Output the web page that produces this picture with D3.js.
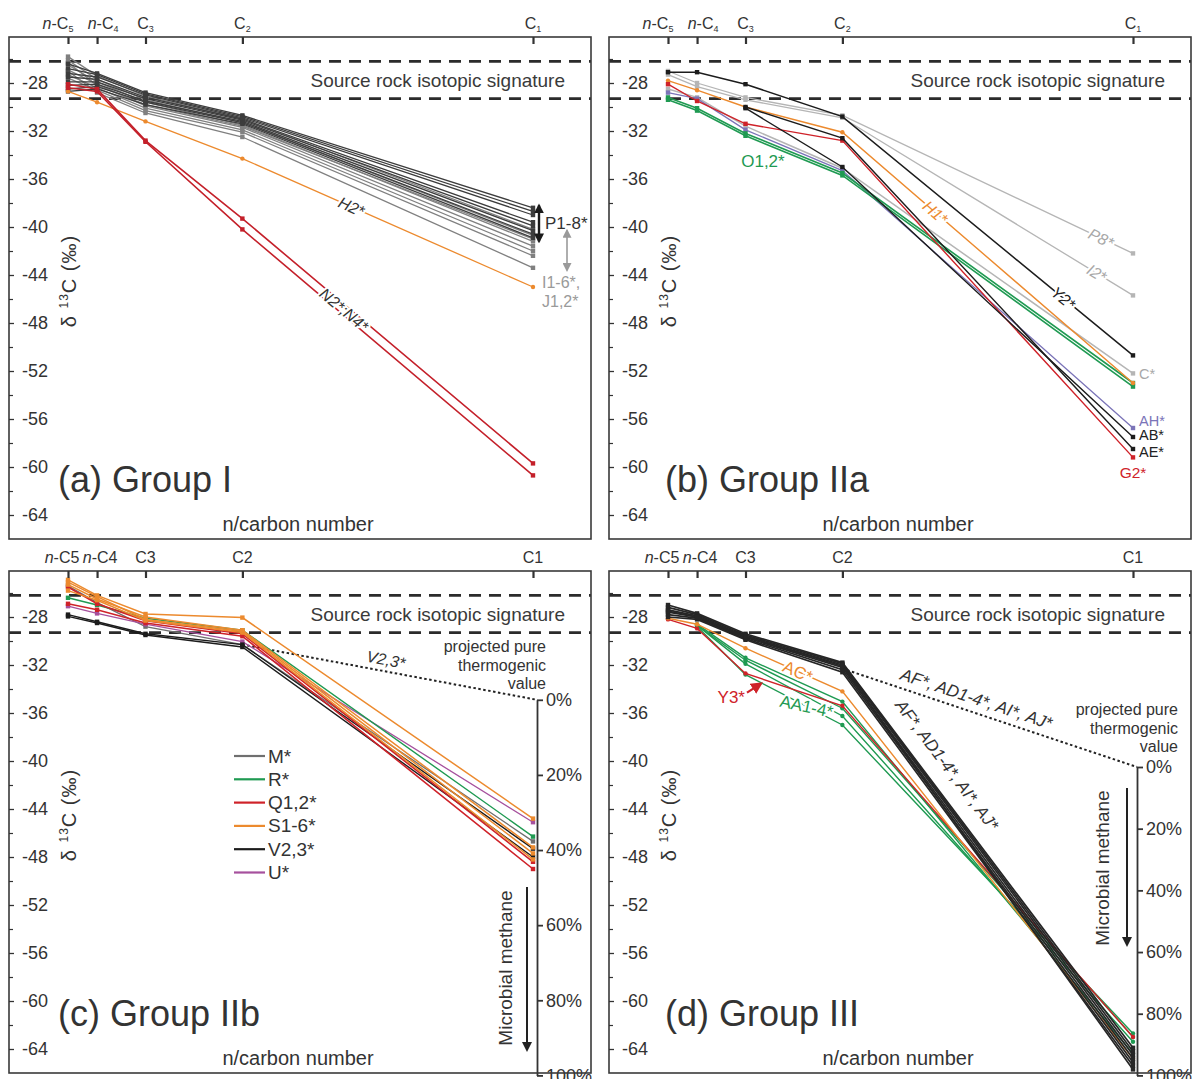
<!DOCTYPE html>
<meta charset="utf-8">
<style>
  body { margin: 0; background: #fff; }
  svg { display: block; font-family: "Liberation Sans", Arial, sans-serif; }
  .src { stroke: #2b2b2b; stroke-width: 2.8; stroke-dasharray: 12,8; }
</style>
<body></body>
<script src="https://d3js.org/d3.v7.min.js"></script>
<script>
// categories on the top axis, plotted against 1/n
var cats = ["n-C5", "n-C4", "C3", "C2", "C1"];
var carbonN = [5, 4, 3, 2, 1];
var yMajor = [-28, -32, -36, -40, -44, -48, -52, -56, -60, -64];
var yMinor = [-26, -30, -34, -38, -42, -46, -50, -54, -58, -62];
var sourceBand = [-26.2, -29.3];
var pctTicks = [0, 20, 40, 60, 80, 100];
var thermoC = -34.9, thermoD = -40.5, microbial = -66.2;

// (a) Group I   values: n-C5, n-C4, C3, C2, C1
var aP = [
  [-26.4, -27.2, -28.8, -30.7, -38.4],
  [-26.8, -27.3, -28.9, -30.8, -38.7],
  [-27.2, -27.5, -29.0, -30.9, -39.0],
  [-27.5, -27.7, -29.2, -31.0, -39.6],
  [-27.9, -27.9, -29.3, -31.1, -39.9],
  [-28.2, -28.1, -29.5, -31.2, -40.3],
  [-28.5, -28.3, -29.6, -31.3, -40.6],
  [-28.7, -28.5, -29.8, -31.4, -40.9]
];
var aIJ = [
  [-25.8, -27.4, -29.1, -31.0, -40.2],
  [-26.1, -27.7, -29.4, -31.3, -40.7],
  [-26.5, -27.9, -29.6, -31.5, -41.2],
  [-26.9, -28.1, -29.9, -31.7, -41.6],
  [-27.3, -28.4, -30.1, -31.9, -42.0],
  [-27.6, -28.6, -30.3, -32.1, -42.4],
  [-27.0, -28.8, -30.5, -32.5, -43.4],
  [-26.3, -28.2, -29.8, -31.6, -41.0]
];
var aH2 = [-28.7, -29.6, -31.2, -34.3, -45.0];
var aN = [
  [-28.1, -28.5, -32.8, -39.3, -59.7],
  [-28.4, -28.7, -32.9, -40.2, -60.7]
];

// (b) Group IIa
var bP8 = [-27.0, -28.0, -29.2, -30.7, -42.2];
var bI2 = [-27.3, -28.3, -29.4, -30.9, -45.7];
var bC = [-28.5, -29.2, -31.6, -35.1, -52.2];
var bY2 = [-27.1, -27.1, -28.1, -30.8, -50.7];
var bH1 = [-27.8, -28.6, -30.0, -32.1, -53.0];
var bO = [
  [-29.2, -30.1, -32.2, -35.5, -53.0],
  [-29.4, -30.3, -32.4, -35.7, -53.3]
];
var bAH = [-28.8, -29.3, -31.9, -35.3, -56.75];
var bAB = [null, null, -30.1, -35.0, -57.5];
var bAE = [null, null, -30.0, -32.6, -58.5];
var bG2 = [-28.1, -29.5, -31.4, -32.8, -59.2];

// (c) Group IIb
var cM = [-25.4, -26.8, -28.8, -30.3, -46.7];
var cR = [-26.4, -27.0, -28.1, -29.1, -46.3];
var cQ = [
  [-25.5, -26.9, -28.3, -29.4, -48.4],
  [-26.9, -27.4, -28.5, -29.6, -49.0]
];
var cS = [
  [-24.9, -26.2, -27.75, -28.05, -44.8],
  [-25.1, -26.3, -28.2, -29.2, -47.7],
  [-25.8, -26.6, -28.3, -29.3, -48.2],
  [-25.3, -26.5, -28.0, -29.1, -47.2]
];
var cV = [
  [-27.8, -28.4, -29.4, -30.3, -47.3],
  [-27.95, -28.5, -29.5, -30.5, -48.0]
];
var cU = [-27.1, -27.7, -28.6, -30.05, -45.1];

// (d) Group III
var dAF = [
  [-27.0, -27.7, -29.4, -31.8, -63.9],
  [-27.2, -27.8, -29.5, -31.9, -64.2],
  [-27.4, -27.9, -29.6, -32.0, -64.5],
  [-27.6, -28.0, -29.7, -32.2, -64.8],
  [-27.8, -28.1, -29.8, -32.4, -65.1],
  [-28.0, -28.2, -29.9, -32.6, -65.4],
  [-27.5, -28.0, -29.6, -32.1, -65.7]
];
var dAC = [-28.1, -28.6, -30.6, -34.2, -64.8];
var dY3 = [-28.2, -28.95, -32.7, -35.4, -63.0];
var dAA = [
  [null, -28.6, -31.4, -35.05, -64.4],
  [null, -28.7, -31.6, -35.6, -63.0],
  [null, -28.7, -31.9, -36.25, -63.4],
  [null, -28.8, -32.8, -37.0, -62.7]
];

var col = {
  dark: "#3d3d3d", grey: "#808080", light: "#b5b5b5", orange: "#ec8a2e",
  red: "#cf2229", green: "#1f9a52", purple: "#7b74b8", magenta: "#a6509d",
  black: "#1c1c1c", mgrey: "#6f6f6f"
};

var W = 1198, H = 1079;
var svg = d3.select("body").append("svg").attr("width", W).attr("height", H);
svg.append("rect").attr("width", W).attr("height", H).attr("fill", "#fff");

var defs = svg.append("defs");
function arrowDef(id, color, size) {
  defs.append("marker").attr("id", id)
    .attr("viewBox", "0 0 10 10").attr("refX", 8).attr("refY", 5)
    .attr("markerWidth", size).attr("markerHeight", size)
    .attr("markerUnits", "userSpaceOnUse")
    .attr("orient", "auto-start-reverse")
    .append("path").attr("d", "M0,0L10,5L0,10z").attr("fill", color);
}
arrowDef("ahBlack", "#1a1a1a", 10);
arrowDef("ahGrey", "#9a9a9a", 9);
arrowDef("ahRed", col.red, 12);
arrowDef("ahDark", "#222", 10);

var x = d3.scaleLinear().domain([0.2, 1]).range([68, 533]);
var y = d3.scaleLinear().domain([-28, -64]).range([83, 515]);
var F = {l: 9, t: 37, r: 591, b: 539};

var line = d3.line()
  .defined(function(d) { return d.v != null; })
  .x(function(d) { return x(1 / d.n); })
  .y(function(d) { return y(d.v); });

function S(vals, color, w, mark) { return {vals: vals, color: color, w: w || 1.3, mark: mark || "sq"}; }

function drawSeries(g, list) {
  list.forEach(function(s) {
    var pts = s.vals.map(function(v, i) { return {n: carbonN[i], v: v}; });
    g.append("path").datum(pts).attr("d", line)
      .attr("fill", "none").attr("stroke", s.color).attr("stroke-width", s.w);
    var real = pts.filter(function(d) { return d.v != null; });
    if (s.mark === "ci") {
      g.selectAll(null).data(real).enter().append("circle")
        .attr("cx", function(d) { return x(1 / d.n); })
        .attr("cy", function(d) { return y(d.v); })
        .attr("r", 2.2).attr("fill", s.color);
    } else {
      g.selectAll(null).data(real).enter().append("rect")
        .attr("x", function(d) { return x(1 / d.n) - 2.2; })
        .attr("y", function(d) { return y(d.v) - 2.2; })
        .attr("width", 4.4).attr("height", 4.4).attr("fill", s.color);
    }
  });
}

function onSeg(vals, i, t) {
  var x0 = x(1 / carbonN[i]), y0 = y(vals[i]), x1 = x(1 / carbonN[i + 1]), y1 = y(vals[i + 1]);
  return {x: x0 + (x1 - x0) * t, y: y0 + (y1 - y0) * t, a: Math.atan2(y1 - y0, x1 - x0) * 180 / Math.PI};
}

function tag(g, pos, txt, color, o) {
  o = o || {};
  var t = g.append("text")
    .attr("transform", "translate(" + pos.x + "," + pos.y + ") rotate(" + (o.angle != null ? o.angle : (pos.a || 0)) + ")")
    .attr("text-anchor", o.anchor || "middle")
    .attr("dy", o.dy != null ? o.dy : "0.35em")
    .attr("font-size", o.size || 15)
    .attr("font-style", o.italic ? "italic" : null)
    .attr("fill", color)
    .text(txt);
  if (o.halo) t.attr("stroke", "#fff").attr("stroke-width", 4).attr("paint-order", "stroke").attr("stroke-linejoin", "round");
  return t;
}

function panel(p) {
  var g = svg.append("g").attr("transform", "translate(" + p.dx + "," + p.dy + ")");

  // source rock band
  sourceBand.forEach(function(v) {
    g.append("line").attr("class", "src")
      .attr("x1", F.l).attr("x2", F.r).attr("y1", y(v)).attr("y2", y(v));
  });
  g.append("text").attr("x", 565).attr("y", y(-28) + 4)
    .attr("text-anchor", "end").attr("font-size", 19).attr("fill", "#3a3a3a")
    .text("Source rock isotopic signature");

  // titles
  g.append("text").attr("x", p.titleX).attr("y", 492)
    .attr("font-size", 36).attr("fill", "#333").text(p.title);
  g.append("text").attr("x", 298).attr("y", 531).attr("text-anchor", "middle")
    .attr("font-size", 20).attr("fill", "#333").text("n/carbon number");

  // right axis (microbial methane %)
  if (p.thermo != null) {
    var pct = d3.scaleLinear().domain([0, 100]).range([y(p.thermo), y(microbial)]);
    var ax = x(1) + 4;
    g.append("line")
      .attr("x1", x(1 / 2)).attr("y1", y(p.dotFrom))
      .attr("x2", ax).attr("y2", y(p.thermo))
      .attr("stroke", "#222").attr("stroke-width", 2).attr("stroke-dasharray", "2.5,2.5");
    var ra = g.append("g").attr("transform", "translate(" + ax + ",0)")
      .call(d3.axisRight(pct).tickValues(pctTicks).tickSize(6).tickSizeOuter(0).tickPadding(3)
        .tickFormat(function(d) { return d + "%"; }));
    ra.attr("font-size", 18).attr("font-family", null);
    ra.selectAll("path,line").attr("stroke", "#333").attr("stroke-width", 1.8);
    ra.selectAll("text").attr("fill", "#333");

    p.proj.forEach(function(s, i) {
      g.append("text").attr("x", p.projX).attr("y", p.projY + i * 18.5)
        .attr("text-anchor", "end").attr("font-size", 16).attr("fill", "#333").text(s);
    });
    g.append("text")
      .attr("transform", "translate(" + p.mmX + "," + p.mmY + ") rotate(-90)")
      .attr("text-anchor", "middle").attr("font-size", 19).attr("fill", "#333")
      .text("Microbial methane");
    g.append("line").attr("x1", p.arX).attr("x2", p.arX)
      .attr("y1", p.arY[0]).attr("y2", p.arY[1])
      .attr("stroke", "#222").attr("stroke-width", 2).attr("marker-end", "url(#ahDark)");
  }

  drawSeries(g, p.series);

  // frame
  g.append("rect").attr("x", F.l).attr("y", F.t).attr("width", F.r - F.l).attr("height", F.b - F.t)
    .attr("fill", "none").attr("stroke", "#3a3a3a").attr("stroke-width", 1.6);

  // top axis
  var top = g.append("g").attr("transform", "translate(0," + F.t + ")")
    .call(d3.axisTop(x).tickValues(carbonN.map(function(n) { return 1 / n; })).tickSize(-7).tickFormat(""));
  top.select(".domain").remove();
  top.selectAll("line").attr("stroke", "#333").attr("stroke-width", 2.2);

  var shift = p.sub ? [-10, 6, 0, 0, 0] : [-6, 3, 0, 0, 0];
  cats.forEach(function(c, i) {
    var t = g.append("text").attr("x", x(1 / carbonN[i]) + shift[i]).attr("y", 29)
      .attr("text-anchor", "middle").attr("font-size", 16).attr("fill", "#333");
    var m = c.match(/^(n)?(-?C)(\d)$/);
    if (m[1]) t.append("tspan").attr("font-style", "italic").text("n");
    t.append("tspan").text(m[2] + (p.sub ? "" : m[3]));
    if (p.sub) t.append("tspan").attr("font-size", 9).attr("dy", 3).text(m[3]);
  });

  // left axis, ticks and labels inside the frame
  var la = g.append("g").attr("transform", "translate(" + F.l + ",0)")
    .call(d3.axisRight(y).tickValues(yMajor).tickSize(5).tickFormat(function(d) { return String(d); }));
  la.select(".domain").remove();
  la.attr("font-size", 18).attr("font-family", null);
  la.selectAll("line").attr("stroke", "#333").attr("stroke-width", 1.3);
  la.selectAll("text").attr("x", 39).attr("text-anchor", "end").attr("fill", "#333");
  var lm = g.append("g").attr("transform", "translate(" + F.l + ",0)")
    .call(d3.axisRight(y).tickValues(yMinor).tickSize(4).tickFormat(""));
  lm.select(".domain").remove();
  lm.selectAll("line").attr("stroke", "#333").attr("stroke-width", 1.2);

  var yt = g.append("text").attr("transform", "translate(76,281) rotate(-90)")
    .attr("text-anchor", "middle").attr("font-size", 20).attr("letter-spacing", 1).attr("fill", "#333");
  yt.append("tspan").text("\u03b4 ");
  yt.append("tspan").attr("font-size", 12).attr("dy", -8).text("13");
  yt.append("tspan").attr("dy", 8).text("C (\u2030)");

  if (p.notes) p.notes(g);
}

function lastY(v) { return y(v[4]); }

// ---- panel (a)
panel({
  dx: 0, dy: 0, title: "(a) Group I", titleX: 58, sub: true,
  series: [].concat(
    aIJ.map(function(v) { return S(v, col.grey, 1.3); }),
    aP.map(function(v) { return S(v, col.dark, 1.3); }),
    [S(aH2, col.orange, 1.3, "ci")],
    aN.map(function(v) { return S(v, "#c4202a", 1.6); })
  ),
  notes: function(g) {
    tag(g, onSeg(aH2, 3, 0.375), "H2*", "#333", {italic: true, halo: true, size: 16});
    var n1 = onSeg(aN[0], 3, 0.35), n2 = onSeg(aN[1], 3, 0.35);
    tag(g, {x: (n1.x + n2.x) / 2, y: (n1.y + n2.y) / 2, a: n1.a}, "N2*;N4*", "#333", {italic: true, halo: true, size: 16});
    var pEnds = aP.map(function(v) { return v[4]; }), ijEnds = aIJ.map(function(v) { return v[4]; });
    var ax = x(1) + 6;
    g.append("line").attr("x1", ax).attr("x2", ax)
      .attr("y1", y(d3.max(pEnds) + 0.2)).attr("y2", y(d3.min(pEnds) - 0.3))
      .attr("stroke", "#1a1a1a").attr("stroke-width", 2.4)
      .attr("marker-start", "url(#ahBlack)").attr("marker-end", "url(#ahBlack)");
    g.append("text").attr("x", ax + 6).attr("y", y((d3.max(pEnds) + d3.min(pEnds)) / 2) + 6)
      .attr("font-size", 17).attr("fill", "#333").text("P1-8*");
    var gx = x(1) + 34;
    g.append("line").attr("x1", gx).attr("x2", gx)
      .attr("y1", y(d3.max(ijEnds) - 0.1)).attr("y2", y(d3.min(ijEnds) - 0.2))
      .attr("stroke", "#9a9a9a").attr("stroke-width", 1.6)
      .attr("marker-start", "url(#ahGrey)").attr("marker-end", "url(#ahGrey)");
    g.append("text").attr("x", x(1) + 9).attr("y", y(d3.min(ijEnds)) + 20)
      .attr("font-size", 16).attr("fill", "#9a9a9a").text("I1-6*,");
    g.append("text").attr("x", x(1) + 9).attr("y", y(d3.min(ijEnds)) + 39)
      .attr("font-size", 16).attr("fill", "#9a9a9a").text("J1,2*");
  }
});

// ---- panel (b)
panel({
  dx: 600, dy: 0, title: "(b) Group IIa", titleX: 65, sub: true,
  series: [
    S(bP8, col.light, 1.3), S(bI2, col.light, 1.3), S(bC, col.light, 1.5),
    S(bAH, col.purple, 1.3), S(bO[0], col.green, 1.6), S(bO[1], col.green, 1.6),
    S(bH1, col.orange, 1.4, "ci"), S(bG2, col.red, 1.4),
    S(bAB, col.black, 1.4), S(bAE, col.black, 1.4), S(bY2, col.black, 1.5)
  ],
  notes: function(g) {
    tag(g, onSeg(bP8, 3, 0.89), "P8*", "#a8a8a8", {italic: true, halo: true, size: 16});
    tag(g, onSeg(bI2, 3, 0.875), "I2*", "#a8a8a8", {italic: true, halo: true, size: 16});
    tag(g, onSeg(bY2, 3, 0.76), "Y2*", "#222", {italic: true, halo: true, size: 16});
    tag(g, onSeg(bH1, 3, 0.32), "H1*", col.orange, {italic: true, halo: true, size: 16});
    var o = onSeg(bO[0], 2, 0.18);
    tag(g, {x: o.x, y: o.y + 21}, "O1,2*", col.green, {angle: 0, size: 17});
    var ex = x(1) + 6;
    [["C*", bC, "#a8a8a8", 6], ["AH*", bAH, col.purple, -2], ["AB*", bAB, "#222", 3], ["AE*", bAE, "#222", 7.5]]
      .forEach(function(d) {
        g.append("text").attr("x", ex).attr("y", lastY(d[1]) + d[3])
          .attr("font-size", 14.5).attr("fill", d[2]).text(d[0]);
      });
    g.append("text").attr("x", x(1)).attr("y", lastY(bG2) + 21).attr("text-anchor", "middle")
      .attr("font-size", 15.5).attr("fill", col.red).text("G2*");
  }
});

// ---- panel (c)
var legendC = [["M*", col.mgrey], ["R*", col.green], ["Q1,2*", col.red], ["S1-6*", col.orange], ["V2,3*", col.black], ["U*", col.magenta]];
panel({
  dx: 0, dy: 534, title: "(c) Group IIb", titleX: 58, sub: false,
  thermo: thermoC, dotFrom: -30.3,
  proj: ["projected pure", "thermogenic", "value"], projX: 546, projY: 118,
  mmX: 512, mmY: 434, arX: 527, arY: [353, 516],
  series: [].concat(
    [S(cM, col.mgrey, 1.3), S(cU, col.magenta, 1.3), S(cR, col.green, 1.4)],
    cV.map(function(v) { return S(v, col.black, 1.4); }),
    cQ.map(function(v) { return S(v, col.red, 1.6); }),
    cS.map(function(v) { return S(v, col.orange, 1.5); })
  ),
  notes: function(g) {
    var dp = {x0: x(1 / 2), y0: y(-30.3), x1: x(1) + 4, y1: y(thermoC)};
    var t = 0.48;
    tag(g, {x: dp.x0 + (dp.x1 - dp.x0) * t, y: dp.y0 + (dp.y1 - dp.y0) * t,
            a: Math.atan2(dp.y1 - dp.y0, dp.x1 - dp.x0) * 180 / Math.PI},
        "V2,3*", "#333", {italic: true, dy: -6, size: 16});
    var lg = g.append("g");
    legendC.forEach(function(d, i) {
      var ly = 222 + i * 23.3;
      lg.append("line").attr("x1", 234).attr("x2", 265).attr("y1", ly).attr("y2", ly)
        .attr("stroke", d[1]).attr("stroke-width", 2.2);
      lg.append("text").attr("x", 268).attr("y", ly + 6.5).attr("font-size", 19)
        .attr("fill", "#333").text(d[0]);
    });
  }
});

// ---- panel (d)
panel({
  dx: 600, dy: 534, title: "(d) Group III", titleX: 65, sub: false,
  thermo: thermoD, dotFrom: -32.3,
  proj: ["projected pure", "thermogenic", "value"], projX: 578, projY: 181,
  mmX: 509, mmY: 334, arX: 527, arY: [254, 411],
  series: [].concat(
    dAA.map(function(v) { return S(v, col.green, 1.4, "ci"); }),
    [S(dY3, col.red, 1.4, "ci"), S(dAC, col.orange, 1.4, "ci")],
    dAF.map(function(v) { return S(v, "#262626", 1.7); })
  ),
  notes: function(g) {
    tag(g, onSeg(dAC, 2, 0.54), "AC*", col.orange, {halo: true, size: 17});
    var aa = onSeg(dAA[3], 2, 0.63);
    tag(g, aa, "AA1-4*", col.green, {halo: true, size: 17, angle: 12});
    var r = onSeg(dY3, 2, 0.16);
    g.append("line").attr("x1", r.x - 14).attr("y1", r.y + 14).attr("x2", r.x).attr("y2", r.y + 5)
      .attr("stroke", col.red).attr("stroke-width", 2.2).attr("marker-end", "url(#ahRed)");
    g.append("text").attr("x", r.x - 16).attr("y", r.y + 24).attr("text-anchor", "end")
      .attr("font-size", 17).attr("fill", col.red).text("Y3*");
    var dp = {x0: x(1 / 2), y0: y(-32.3), x1: x(1) + 4, y1: y(thermoD)};
    var t = 0.44;
    tag(g, {x: dp.x0 + (dp.x1 - dp.x0) * t, y: dp.y0 + (dp.y1 - dp.y0) * t,
            a: Math.atan2(dp.y1 - dp.y0, dp.x1 - dp.x0) * 180 / Math.PI},
        "AF*, AD1-4*, AI*, AJ*", "#333", {italic: true, dy: -8, size: 17});
    tag(g, onSeg(dAF[0], 3, 0.30), "AF*, AD1-4*, AI*, AJ*", "#333", {italic: true, dy: -16, size: 17});
  }
});
</script>
